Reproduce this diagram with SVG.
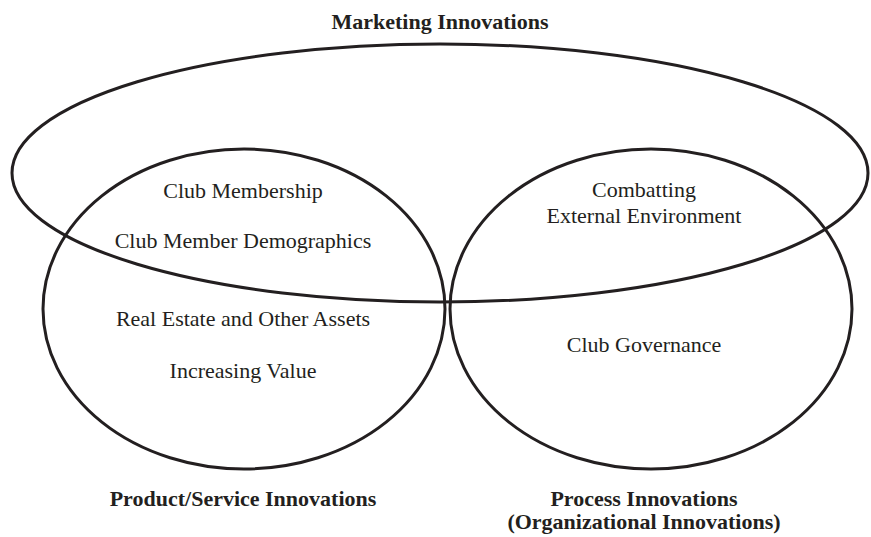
<svg xmlns="http://www.w3.org/2000/svg" width="871" height="537" viewBox="0 0 871 537">
  <style>
    .shape { fill: none; stroke: #231f20; stroke-width: 3; }
    .t { font-family: "Liberation Serif", "Times New Roman", serif; font-size: 22px; fill: #231f20; text-anchor: middle; }
    .b { font-weight: bold; }
  </style>
  <rect width="871" height="537" fill="#ffffff"/>
  <g id="marketing">
    <ellipse class="shape" cx="440" cy="173" rx="428" ry="129"/>
    <text class="t b" x="440" y="29">Marketing Innovations</text>
  </g>
  <g id="product-service">
    <ellipse class="shape" cx="244" cy="309" rx="201" ry="160"/>
    <text class="t b" x="243" y="506">Product/Service Innovations</text>
  </g>
  <g id="process">
    <ellipse class="shape" cx="651" cy="309" rx="201" ry="160"/>
    <text class="t b" x="644" y="506">Process Innovations</text>
    <text class="t b" x="644" y="529">(Organizational Innovations)</text>
  </g>
  <g id="items">
    <text class="t" x="243" y="198">Club Membership</text>
    <text class="t" x="243" y="248">Club Member Demographics</text>
    <text class="t" x="243" y="326">Real Estate and Other Assets</text>
    <text class="t" x="243" y="378">Increasing Value</text>
    <text class="t" x="644" y="197">Combatting</text>
    <text class="t" x="644" y="223">External Environment</text>
    <text class="t" x="644" y="352">Club Governance</text>
  </g>
  <g id="connectors"></g>
</svg>
